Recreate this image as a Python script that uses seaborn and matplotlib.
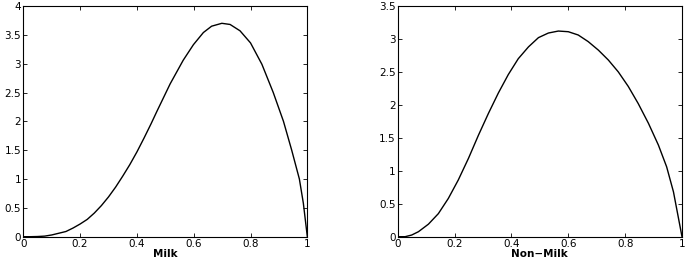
import matplotlib
matplotlib.use("Agg")
import matplotlib.pyplot as plt
import seaborn as sns
import pandas as pd

milk_x = [0.0, 0.025, 0.05, 0.075, 0.1, 0.125, 0.15, 0.175, 0.2, 0.225, 0.25, 0.275,
          0.3, 0.325, 0.35, 0.375, 0.4, 0.425, 0.45, 0.47, 0.517, 0.563, 0.599, 0.634,
          0.663, 0.699, 0.728, 0.763, 0.8, 0.84, 0.88, 0.916, 0.945, 0.972, 0.986, 1.0]
milk_y = [0.0, 0.0, 0.003, 0.01, 0.03, 0.06, 0.09, 0.15, 0.22, 0.30, 0.41, 0.54,
          0.69, 0.86, 1.05, 1.25, 1.47, 1.71, 1.96, 2.17, 2.65, 3.06, 3.33, 3.54,
          3.65, 3.70, 3.68, 3.57, 3.36, 2.99, 2.50, 2.00, 1.50, 1.00, 0.58, 0.0]

nonmilk_x = [0.0, 0.026, 0.049, 0.073, 0.108, 0.143, 0.178, 0.213, 0.249, 0.284, 0.319,
             0.354, 0.389, 0.424, 0.46, 0.495, 0.53, 0.565, 0.6, 0.635, 0.67, 0.706,
             0.741, 0.776, 0.811, 0.846, 0.882, 0.917, 0.946, 0.97, 1.0]
nonmilk_y = [0.0, 0.0, 0.025, 0.076, 0.19, 0.35, 0.58, 0.86, 1.19, 1.54, 1.87,
             2.18, 2.46, 2.70, 2.88, 3.02, 3.09, 3.12, 3.11, 3.06, 2.96, 2.83,
             2.68, 2.50, 2.28, 2.02, 1.72, 1.39, 1.06, 0.68, 0.0]

x_ticks = [0, 0.2, 0.4, 0.6, 0.8, 1]
x_tick_labels = ["0", "0.2", "0.4", "0.6", "0.8", "1"]
milk_yticks = [0, 0.5, 1, 1.5, 2, 2.5, 3, 3.5, 4]
nonmilk_yticks = [0, 0.5, 1, 1.5, 2, 2.5, 3, 3.5]

sns.set_style("ticks")
plt.rcParams["font.family"] = ["DejaVu Sans"]

fig = plt.figure(figsize=(6.9, 2.68), dpi=100)
ax1 = fig.add_axes([0.0338, 0.1168, 0.4116, 0.8608])
ax2 = fig.add_axes([0.5764, 0.1168, 0.4120, 0.8608])

panels = [
    (ax1, milk_x, milk_y, "Milk", 4, milk_yticks),
    (ax2, nonmilk_x, nonmilk_y, "Non\u2212Milk", 3.5, nonmilk_yticks),
]
for ax, xs, ys, label, ymax, yt in panels:
    df = pd.DataFrame({"x": xs, "y": ys})
    sns.lineplot(data=df, x="x", y="y", ax=ax, color="black", linewidth=1.0)
    ax.set_xlim(0, 1)
    ax.set_ylim(0, ymax)
    ax.set_xticks(x_ticks)
    ax.set_xticklabels(x_tick_labels)
    ax.set_yticks(yt)
    ax.set_yticklabels([f"{v:g}" for v in yt])
    ax.tick_params(direction="in", top=True, right=True, length=3, width=0.6,
                   labelsize=7.5, pad=1.5, colors="black")
    for s in ax.spines.values():
        s.set_visible(True)
        s.set_linewidth(0.8)
        s.set_color("black")
    ax.set_xlabel(label, fontsize=7.5, fontweight="bold", labelpad=0, color="black")
    ax.set_ylabel("")

fig.savefig("out.png", dpi=100)
